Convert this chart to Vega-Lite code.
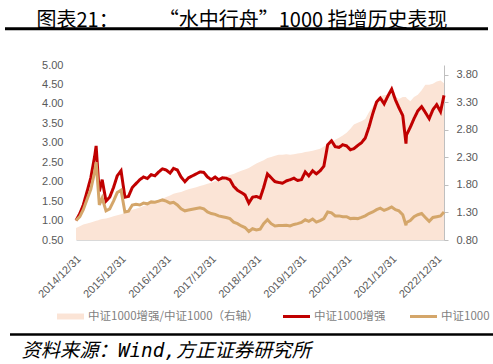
{
  "$schema": "https://vega.github.io/schema/vega-lite/v6.json",
  "width": 368,
  "height": 175,
  "autosize": {"type": "none"},
  "padding": {"left": 76, "top": 65, "right": 49, "bottom": 124},
  "background": "white",
  "config": {"view": {"stroke": null}, "font": "Liberation Sans"},
  "data": {
    "values": [
      {"date": "2014-12-31", "enhanced": 1.00, "csi1000": 1.00, "ratio": 1.02},
      {"date": "2015-01-31", "enhanced": 1.18, "csi1000": 1.10, "ratio": 1.05},
      {"date": "2015-02-28", "enhanced": 1.40, "csi1000": 1.28, "ratio": 1.08},
      {"date": "2015-03-31", "enhanced": 1.75, "csi1000": 1.55, "ratio": 1.10},
      {"date": "2015-04-30", "enhanced": 2.10, "csi1000": 1.80, "ratio": 1.12},
      {"date": "2015-05-31", "enhanced": 2.65, "csi1000": 2.25, "ratio": 1.14},
      {"date": "2015-06-12", "enhanced": 2.92, "csi1000": 2.50, "ratio": 1.15},
      {"date": "2015-06-30", "enhanced": 2.05, "csi1000": 1.75, "ratio": 1.16},
      {"date": "2015-07-08", "enhanced": 1.75, "csi1000": 1.40, "ratio": 1.17},
      {"date": "2015-07-31", "enhanced": 2.05, "csi1000": 1.58, "ratio": 1.18},
      {"date": "2015-08-31", "enhanced": 1.50, "csi1000": 1.25, "ratio": 1.19},
      {"date": "2015-09-30", "enhanced": 1.60, "csi1000": 1.30, "ratio": 1.21},
      {"date": "2015-10-31", "enhanced": 1.85, "csi1000": 1.50, "ratio": 1.23},
      {"date": "2015-11-30", "enhanced": 2.15, "csi1000": 1.72, "ratio": 1.25},
      {"date": "2015-12-31", "enhanced": 2.28, "csi1000": 1.78, "ratio": 1.27},
      {"date": "2016-01-31", "enhanced": 1.60, "csi1000": 1.22, "ratio": 1.29},
      {"date": "2016-02-29", "enhanced": 1.62, "csi1000": 1.24, "ratio": 1.32},
      {"date": "2016-03-31", "enhanced": 1.85, "csi1000": 1.40, "ratio": 1.35},
      {"date": "2016-04-30", "enhanced": 1.95, "csi1000": 1.42, "ratio": 1.37},
      {"date": "2016-05-31", "enhanced": 2.05, "csi1000": 1.40, "ratio": 1.39},
      {"date": "2016-06-30", "enhanced": 2.12, "csi1000": 1.45, "ratio": 1.42},
      {"date": "2016-07-31", "enhanced": 2.08, "csi1000": 1.43, "ratio": 1.44},
      {"date": "2016-08-31", "enhanced": 2.18, "csi1000": 1.48, "ratio": 1.47},
      {"date": "2016-09-30", "enhanced": 2.15, "csi1000": 1.47, "ratio": 1.50},
      {"date": "2016-10-31", "enhanced": 2.25, "csi1000": 1.50, "ratio": 1.53},
      {"date": "2016-11-30", "enhanced": 2.33, "csi1000": 1.53, "ratio": 1.55},
      {"date": "2016-12-31", "enhanced": 2.30, "csi1000": 1.50, "ratio": 1.58},
      {"date": "2017-01-31", "enhanced": 2.22, "csi1000": 1.45, "ratio": 1.61},
      {"date": "2017-02-28", "enhanced": 2.34, "csi1000": 1.47, "ratio": 1.64},
      {"date": "2017-03-31", "enhanced": 2.30, "csi1000": 1.40, "ratio": 1.66},
      {"date": "2017-04-30", "enhanced": 2.12, "csi1000": 1.30, "ratio": 1.67},
      {"date": "2017-05-31", "enhanced": 2.00, "csi1000": 1.25, "ratio": 1.70},
      {"date": "2017-06-30", "enhanced": 2.10, "csi1000": 1.27, "ratio": 1.72},
      {"date": "2017-07-31", "enhanced": 2.15, "csi1000": 1.29, "ratio": 1.74},
      {"date": "2017-08-31", "enhanced": 2.20, "csi1000": 1.31, "ratio": 1.76},
      {"date": "2017-09-30", "enhanced": 2.25, "csi1000": 1.33, "ratio": 1.78},
      {"date": "2017-10-31", "enhanced": 2.24, "csi1000": 1.30, "ratio": 1.80},
      {"date": "2017-11-30", "enhanced": 2.12, "csi1000": 1.22, "ratio": 1.82},
      {"date": "2017-12-31", "enhanced": 2.05, "csi1000": 1.18, "ratio": 1.84},
      {"date": "2018-01-31", "enhanced": 2.12, "csi1000": 1.16, "ratio": 1.87},
      {"date": "2018-02-28", "enhanced": 2.05, "csi1000": 1.12, "ratio": 1.90},
      {"date": "2018-03-31", "enhanced": 2.10, "csi1000": 1.10, "ratio": 1.93},
      {"date": "2018-04-30", "enhanced": 2.09, "csi1000": 1.08, "ratio": 1.96},
      {"date": "2018-05-31", "enhanced": 2.05, "csi1000": 1.05, "ratio": 1.98},
      {"date": "2018-06-30", "enhanced": 1.88, "csi1000": 0.96, "ratio": 2.00},
      {"date": "2018-07-31", "enhanced": 1.78, "csi1000": 0.92, "ratio": 2.03},
      {"date": "2018-08-31", "enhanced": 1.72, "csi1000": 0.86, "ratio": 2.06},
      {"date": "2018-09-30", "enhanced": 1.66, "csi1000": 0.82, "ratio": 2.08},
      {"date": "2018-10-31", "enhanced": 1.45, "csi1000": 0.72, "ratio": 2.11},
      {"date": "2018-11-30", "enhanced": 1.60, "csi1000": 0.79, "ratio": 2.15},
      {"date": "2018-12-31", "enhanced": 1.62, "csi1000": 0.76, "ratio": 2.19},
      {"date": "2019-01-31", "enhanced": 1.58, "csi1000": 0.78, "ratio": 2.22},
      {"date": "2019-02-28", "enhanced": 1.85, "csi1000": 0.92, "ratio": 2.25},
      {"date": "2019-03-31", "enhanced": 2.20, "csi1000": 1.02, "ratio": 2.29},
      {"date": "2019-04-30", "enhanced": 2.10, "csi1000": 0.92, "ratio": 2.31},
      {"date": "2019-05-31", "enhanced": 2.00, "csi1000": 0.86, "ratio": 2.33},
      {"date": "2019-06-30", "enhanced": 1.98, "csi1000": 0.87, "ratio": 2.35},
      {"date": "2019-07-31", "enhanced": 1.96, "csi1000": 0.87, "ratio": 2.35},
      {"date": "2019-08-31", "enhanced": 2.02, "csi1000": 0.88, "ratio": 2.36},
      {"date": "2019-09-30", "enhanced": 2.05, "csi1000": 0.86, "ratio": 2.35},
      {"date": "2019-10-31", "enhanced": 2.09, "csi1000": 0.90, "ratio": 2.36},
      {"date": "2019-11-30", "enhanced": 2.03, "csi1000": 0.92, "ratio": 2.37},
      {"date": "2019-12-31", "enhanced": 2.05, "csi1000": 0.95, "ratio": 2.38},
      {"date": "2020-01-31", "enhanced": 2.25, "csi1000": 1.02, "ratio": 2.40},
      {"date": "2020-02-29", "enhanced": 2.15, "csi1000": 0.98, "ratio": 2.41},
      {"date": "2020-03-31", "enhanced": 2.28, "csi1000": 1.04, "ratio": 2.42},
      {"date": "2020-04-30", "enhanced": 2.20, "csi1000": 0.96, "ratio": 2.44},
      {"date": "2020-05-31", "enhanced": 2.28, "csi1000": 1.00, "ratio": 2.46},
      {"date": "2020-06-30", "enhanced": 2.40, "csi1000": 1.05, "ratio": 2.50},
      {"date": "2020-07-31", "enhanced": 2.95, "csi1000": 1.22, "ratio": 2.55},
      {"date": "2020-08-31", "enhanced": 3.05, "csi1000": 1.20, "ratio": 2.58},
      {"date": "2020-09-30", "enhanced": 2.90, "csi1000": 1.12, "ratio": 2.62},
      {"date": "2020-10-31", "enhanced": 2.88, "csi1000": 1.12, "ratio": 2.66},
      {"date": "2020-11-30", "enhanced": 2.95, "csi1000": 1.10, "ratio": 2.70},
      {"date": "2020-12-31", "enhanced": 2.92, "csi1000": 1.10, "ratio": 2.75},
      {"date": "2021-01-31", "enhanced": 2.82, "csi1000": 1.05, "ratio": 2.82},
      {"date": "2021-02-28", "enhanced": 2.85, "csi1000": 1.06, "ratio": 2.90},
      {"date": "2021-03-31", "enhanced": 2.93, "csi1000": 1.05, "ratio": 2.93},
      {"date": "2021-04-30", "enhanced": 3.00, "csi1000": 1.08, "ratio": 2.96},
      {"date": "2021-05-31", "enhanced": 3.12, "csi1000": 1.12, "ratio": 3.00},
      {"date": "2021-06-30", "enhanced": 3.40, "csi1000": 1.18, "ratio": 3.12},
      {"date": "2021-07-31", "enhanced": 3.75, "csi1000": 1.22, "ratio": 3.22},
      {"date": "2021-08-31", "enhanced": 4.05, "csi1000": 1.28, "ratio": 3.35},
      {"date": "2021-09-30", "enhanced": 4.15, "csi1000": 1.32, "ratio": 3.42},
      {"date": "2021-10-31", "enhanced": 4.00, "csi1000": 1.26, "ratio": 3.43},
      {"date": "2021-11-30", "enhanced": 4.20, "csi1000": 1.30, "ratio": 3.44},
      {"date": "2021-12-31", "enhanced": 4.38, "csi1000": 1.35, "ratio": 3.44},
      {"date": "2022-01-31", "enhanced": 4.10, "csi1000": 1.28, "ratio": 3.40},
      {"date": "2022-02-28", "enhanced": 3.90, "csi1000": 1.25, "ratio": 3.36},
      {"date": "2022-03-31", "enhanced": 3.70, "csi1000": 1.15, "ratio": 3.40},
      {"date": "2022-04-26", "enhanced": 2.98, "csi1000": 0.88, "ratio": 3.40},
      {"date": "2022-04-30", "enhanced": 3.20, "csi1000": 0.95, "ratio": 3.38},
      {"date": "2022-05-31", "enhanced": 3.40, "csi1000": 1.00, "ratio": 3.32},
      {"date": "2022-06-30", "enhanced": 3.62, "csi1000": 1.10, "ratio": 3.40},
      {"date": "2022-07-31", "enhanced": 3.82, "csi1000": 1.15, "ratio": 3.44},
      {"date": "2022-08-31", "enhanced": 3.93, "csi1000": 1.18, "ratio": 3.52},
      {"date": "2022-09-30", "enhanced": 3.78, "csi1000": 1.08, "ratio": 3.62},
      {"date": "2022-10-31", "enhanced": 3.62, "csi1000": 0.98, "ratio": 3.62},
      {"date": "2022-11-30", "enhanced": 3.85, "csi1000": 1.08, "ratio": 3.64},
      {"date": "2022-12-31", "enhanced": 3.98, "csi1000": 1.10, "ratio": 3.68},
      {"date": "2023-01-31", "enhanced": 3.80, "csi1000": 1.12, "ratio": 3.70},
      {"date": "2023-02-28", "enhanced": 4.22, "csi1000": 1.22, "ratio": 3.65}
    ]
  },
  "encoding": {
    "x": {
      "field": "date",
      "type": "temporal",
      "scale": {"type": "utc"},
      "axis": {
        "values": [
          {"year": 2014, "month": 12, "date": 31, "utc": true},
          {"year": 2015, "month": 12, "date": 31, "utc": true},
          {"year": 2016, "month": 12, "date": 31, "utc": true},
          {"year": 2017, "month": 12, "date": 31, "utc": true},
          {"year": 2018, "month": 12, "date": 31, "utc": true},
          {"year": 2019, "month": 12, "date": 31, "utc": true},
          {"year": 2020, "month": 12, "date": 31, "utc": true},
          {"year": 2021, "month": 12, "date": 31, "utc": true},
          {"year": 2022, "month": 12, "date": 31, "utc": true}
        ],
        "format": "%Y/%m/%d",
        "labelAngle": -45,
        "labelAlign": "right",
        "labelBaseline": "middle",
        "labelPadding": 17,
        "labelOffset": 3,
        "labelFont": "Liberation Sans",
        "labelFontSize": 11,
        "labelColor": "#595959",
        "ticks": false,
        "tickSize": 0,
        "grid": false,
        "domainColor": "#D9D9D9",
        "domainWidth": 1,
        "labelOverlap": false,
        "labelBound": false,
        "labelFlush": false,
        "title": "资料来源：Wind,方正证券研究所",
        "titleFont": "DejaVu Sans Mono, Noto Sans CJK SC",
        "titleFontSize": 19.3,
        "titleFontStyle": "italic",
        "titleFontWeight": "normal",
        "titleColor": "#000000",
        "titleAlign": "left",
        "titleBaseline": "middle",
        "titleLimit": 1000,
        "titleX": -55,
        "titleY": 110
      }
    }
  },
  "layer": [
    {
      "mark": {"type": "area", "opacity": 1},
      "encoding": {
        "y": {
          "field": "ratio",
          "type": "quantitative",
          "scale": {"domain": [0.8, 3.98], "zero": false, "nice": false},
          "axis": {
            "orient": "right",
            "values": [0.8, 1.3, 1.8, 2.3, 2.8, 3.3, 3.8],
            "format": ".2f",
            "title": null,
            "grid": false,
            "domain": true,
            "domainColor": "#BFBFBF",
            "ticks": true,
            "tickColor": "#BFBFBF",
            "tickSize": 4,
            "labelPadding": 8,
            "labelOverlap": false,
            "labelFont": "Liberation Sans",
            "labelFontSize": 11,
            "labelColor": "#595959"
          }
        },
        "y2": {"datum": 0.8},
        "color": {
          "datum": "中证1000增强/中证1000（右轴）",
          "scale": {
            "domain": ["中证1000增强/中证1000（右轴）", "中证1000增强", "中证1000"],
            "range": ["#FBE4D6", "#C00000", "#D4A66A"]
          },
          "legend": {
            "orient": "none",
            "legendX": -19,
            "legendY": 238,
            "direction": "horizontal",
            "title": null,
            "padding": 0,
            "labelFont": "Noto Sans CJK SC",
            "labelFontSize": 11.5,
            "labelColor": "#7F7F7F",
            "labelLimit": 400,
            "labelOffset": 4,
            "columnPadding": 24,
            "symbolSize": 729,
            "symbolType": "M-1,-0.11H1V0.11H-1Z",
            "symbolStrokeWidth": 0,
            "symbolOpacity": 1,
            "encode": {
              "symbols": {
                "update": {
                  "shape": {"signal": "datum.value === '中证1000增强/中证1000（右轴）' ? 'M-1,-0.22H1V0.22H-1Z' : 'M-1,-0.11H1V0.11H-1Z'"},
                  "fill": {"scale": "color", "field": "value"},
                  "stroke": {"value": "transparent"},
                  "strokeWidth": {"value": 0},
                  "opacity": {"value": 1}
                }
              }
            }
          }
        }
      }
    },
    {
      "layer": [
        {
          "mark": {"type": "line", "strokeWidth": 3},
          "encoding": {
            "y": {
              "field": "enhanced",
              "type": "quantitative",
              "scale": {"domain": [0.5, 5], "zero": false, "nice": false},
              "axis": {
                "orient": "left",
                "values": [0.5, 1, 1.5, 2, 2.5, 3, 3.5, 4, 4.5, 5],
                "format": ".2f",
                "grid": false,
                "domain": false,
                "ticks": false,
                "tickSize": 0,
                "labelPadding": 13,
                "labelOverlap": false,
                "labelFont": "Liberation Sans",
                "labelFontSize": 11,
                "labelColor": "#595959",
                "title": "图表21：\u3000\u3000\u2002“水中行舟”1000 指增历史表现",
                "titleAngle": 0,
                "titleAlign": "left",
                "titleBaseline": "middle",
                "titleFont": "Noto Sans CJK SC",
                "titleFontSize": 20,
                "titleFontWeight": "normal",
                "titleColor": "#000000",
                "titleLimit": 1000,
                "titleX": -40,
                "titleY": -44.5
              }
            },
            "color": {"datum": "中证1000增强"},
            "strokeDash": {
              "datum": "bottom",
              "type": "nominal",
              "scale": {"domain": ["bottom"], "range": [[1, 0]]},
              "legend": {
                "orient": "none",
                "legendX": 170.5,
                "legendY": 264.5,
                "direction": "vertical",
                "title": null,
                "padding": 0,
                "labelExpr": "''",
                "labelFontSize": 1,
                "labelOffset": 0,
                "symbolSize": 100,
                "symbolType": "M-48.3,-0.27H48.3V0.27H-48.3Z",
                "symbolFillColor": "#000000",
                "symbolStrokeColor": "transparent",
                "symbolStrokeWidth": 0,
                "symbolOpacity": 1,
                "encode": {
                  "symbols": {
                    "update": {
                      "shape": {"value": "M-48.3,-0.27H48.3V0.27H-48.3Z"},
                      "fill": {"value": "#000000"},
                      "stroke": {"value": "transparent"},
                      "strokeWidth": {"value": 0},
                      "opacity": {"value": 1},
                      "size": {"value": 100}
                    }
                  }
                }
              }
            }
          }
        },
        {
          "mark": {"type": "line", "strokeWidth": 3},
          "encoding": {
            "y": {
              "field": "csi1000",
              "type": "quantitative",
              "axis": {
                "orient": "left",
                "values": [0.5, 1, 1.5, 2, 2.5, 3, 3.5, 4, 4.5, 5],
                "format": ".2f",
                "grid": false,
                "domain": false,
                "ticks": false,
                "tickSize": 0,
                "labelPadding": 13,
                "labelOverlap": false,
                "labelFont": "Liberation Sans",
                "labelFontSize": 11,
                "labelColor": "#595959",
                "title": "图表21：\u3000\u3000\u2002“水中行舟”1000 指增历史表现",
                "titleAngle": 0,
                "titleAlign": "left",
                "titleBaseline": "middle",
                "titleFont": "Noto Sans CJK SC",
                "titleFontSize": 20,
                "titleFontWeight": "normal",
                "titleColor": "#000000",
                "titleLimit": 1000,
                "titleX": -40,
                "titleY": -44.5
              }
            },
            "color": {"datum": "中证1000"},
            "strokeWidth": {
              "datum": "top",
              "type": "ordinal",
              "scale": {"domain": ["top"], "range": [3]},
              "legend": {
                "orient": "none",
                "legendX": 170.5,
                "legendY": -36.3,
                "direction": "vertical",
                "title": null,
                "padding": 0,
                "labelExpr": "''",
                "labelFontSize": 1,
                "labelOffset": 0,
                "symbolSize": 100,
                "symbolType": "M-48.3,-0.3H48.3V0.3H-48.3Z",
                "symbolFillColor": "#000000",
                "symbolStrokeColor": "transparent",
                "symbolStrokeWidth": 0,
                "symbolOpacity": 1,
                "encode": {
                  "symbols": {
                    "update": {
                      "shape": {"value": "M-48.3,-0.3H48.3V0.3H-48.3Z"},
                      "fill": {"value": "#000000"},
                      "stroke": {"value": "transparent"},
                      "strokeWidth": {"value": 0},
                      "opacity": {"value": 1},
                      "size": {"value": 100}
                    }
                  }
                }
              }
            }
          }
        }
      ]
    }
  ],
  "resolve": {"scale": {"y": "independent"}}
}
